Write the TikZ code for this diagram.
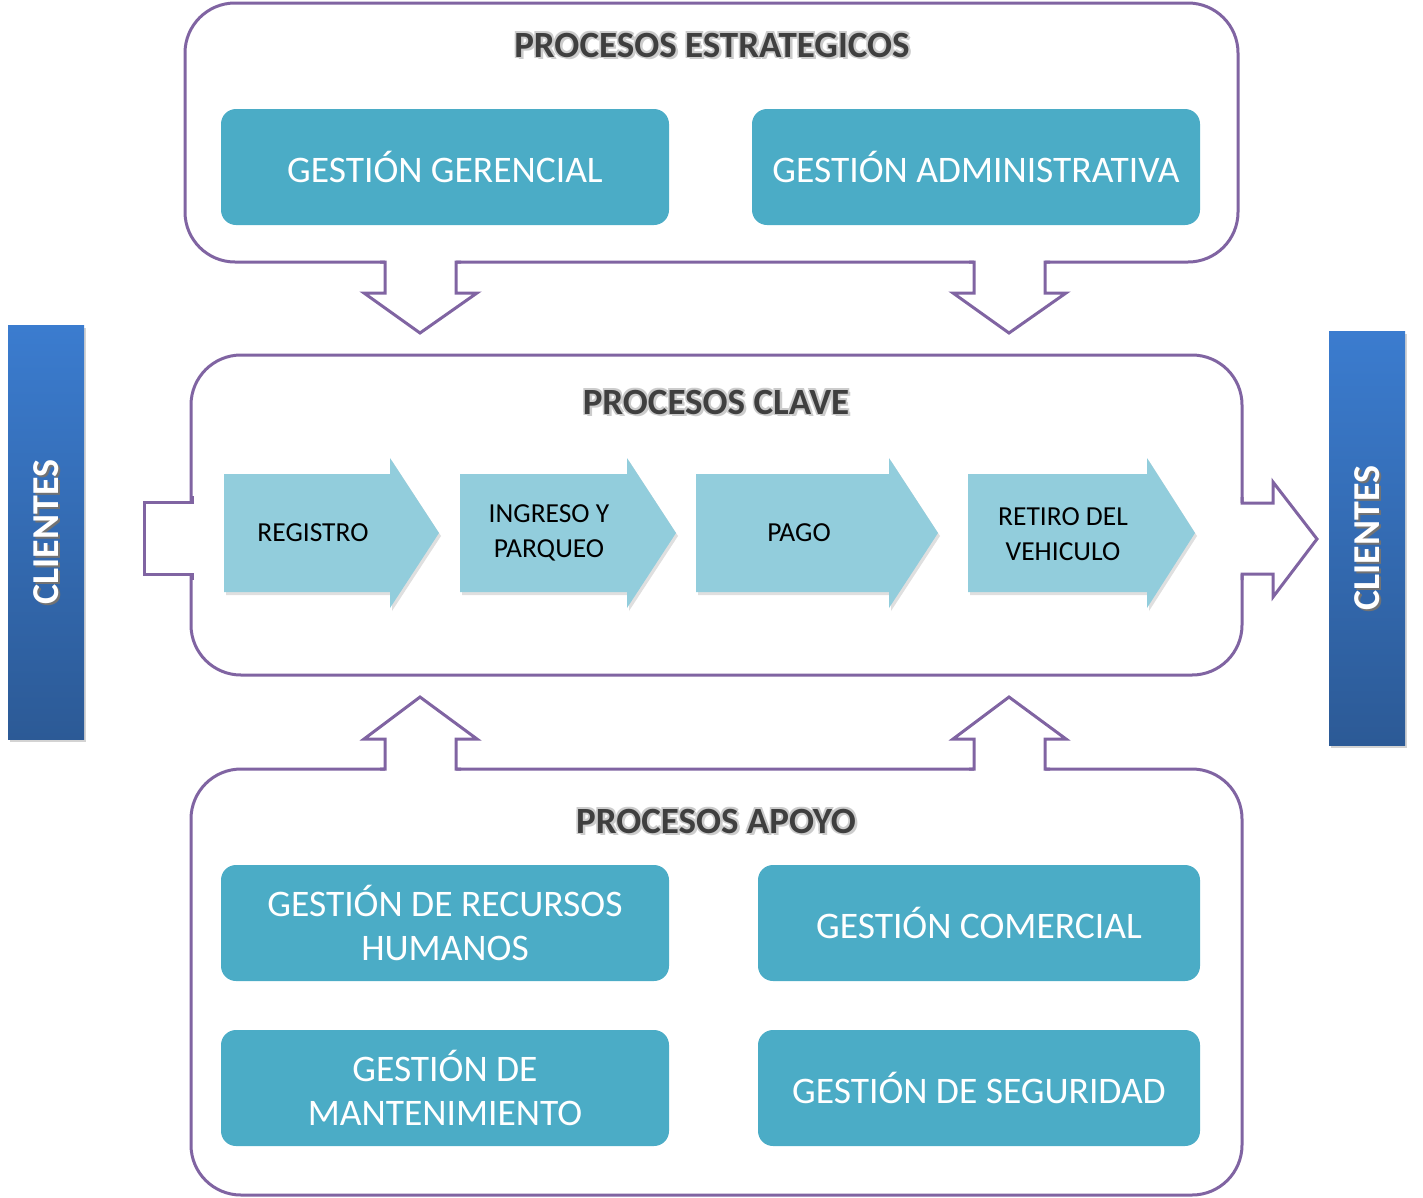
\documentclass[tikz,border=0pt]{standalone}
\usepackage{fontspec}
\setmainfont{Carlito}
\usetikzlibrary{shadows}
\definecolor{procpurple}{HTML}{8064A2}
\definecolor{gbblue}{HTML}{4BACC6}
\definecolor{chevblue}{HTML}{92CDDC}
\definecolor{ttlgray}{HTML}{3F3F3F}
\definecolor{cliTop}{HTML}{3B7CCF}
\definecolor{cliBot}{HTML}{2C5A96}
\begin{document}
\begin{tikzpicture}[x=1pt,y=-1pt,
  frame/.style={draw=procpurple, line width=3pt, line join=miter},
  cont/.style={frame, rounded corners=50pt, inner sep=0pt},
  cover/.style={fill=white, draw=none},
  gbox/.style={fill=gbblue, rounded corners=15pt, minimum width=448pt, minimum height=116pt, text=white, font=\fontsize{37.5}{44}\selectfont, align=center, inner sep=0pt},
  chev/.style={fill=chevblue, drop shadow={opacity=0.25, shadow xshift=2pt, shadow yshift=-3pt}},
  chevtxt/.style={font=\fontsize{27.5}{35}\selectfont, align=center, text=black},
  ttl/.style={font=\bfseries\fontsize{37}{40}\selectfont, text=ttlgray},
  ttlsh/.style={font=\bfseries\fontsize{37}{40}\selectfont, text=black!20},
  cli/.style={top color=cliTop, bottom color=cliBot, draw=none, minimum width=76pt, minimum height=414pt, inner sep=0pt, drop shadow={opacity=0.35, shadow xshift=2pt, shadow yshift=-3pt}},
  clitxt/.style={font=\bfseries\fontsize{38}{40}\selectfont, text=white, rotate=90},
  clish/.style={font=\bfseries\fontsize{38}{40}\selectfont, text=black!55, rotate=90}
]
\useasboundingbox (0,0) rectangle (1423,1197);

% containers
\node[cont, minimum width=1053pt, minimum height=259pt] (strat) at (711.5,132.5) {};
\node[cont, minimum width=1051pt, minimum height=320pt] (clave) at (716.5,515) {};
\node[cont, minimum width=1051pt, minimum height=426pt] (apoyo) at (716.5,982) {};

% down arrows from strategic
\foreach \c in {420,1009}{
  \fill[cover] (\c-35,259) -- (\c-35,293) -- (\c-55,293) -- (\c,333) -- (\c+56,293) -- (\c+36,293) -- (\c+36,259) -- cycle;
  \draw[frame] (\c-40,262) -- (\c-35,262) -- (\c-35,293) -- (\c-56,293) -- (\c,333) -- (\c+57,293) -- (\c+36,293) -- (\c+36,262) -- (\c+41,262);
}
% up arrows from support
\foreach \c in {420,1009}{
  \fill[cover] (\c-35,772) -- (\c-35,739) -- (\c-55,739) -- (\c,697) -- (\c+56,739) -- (\c+36,739) -- (\c+36,772) -- cycle;
  \draw[frame] (\c-40,769) -- (\c-35,769) -- (\c-35,739) -- (\c-56,739) -- (\c,697) -- (\c+57,739) -- (\c+36,739) -- (\c+36,769) -- (\c+41,769);
}
% left entry notch
\fill[cover] (144,502) rectangle (196,574);
\draw[frame] (192,496) -- (192,502) -- (144,502) -- (144,574) -- (192,574) -- (192,580);
% right exit arrow
\fill[cover] (1237,503) -- (1273,503) -- (1273,482) -- (1317,539) -- (1273,597) -- (1273,574) -- (1237,574) -- cycle;
\draw[frame] (1242,497) -- (1242,503) -- (1273,503) -- (1273,482) -- (1317,539) -- (1273,597) -- (1273,574) -- (1242,574) -- (1242,580);

% titles (with soft outline)
\foreach \dx/\dy in {-1.5/-1.5,1.5/-1.5,-1.5/1.5,1.5/1.5,2.5/2.5}{
  \node[ttlsh] at (712+\dx,45+\dy) {PROCESOS ESTRATEGICOS};
  \node[ttlsh] at (716+\dx,402+\dy) {PROCESOS CLAVE};
  \node[ttlsh] at (716+\dx,821+\dy) {PROCESOS APOYO};
}
\node[ttl] (tstrat) at (712,45) {PROCESOS ESTRATEGICOS};
\node[ttl] (tclave) at (716,402) {PROCESOS CLAVE};
\node[ttl] (tapoyo) at (716,821) {PROCESOS APOYO};

% strategic boxes
\node[gbox] (gger) at (445,167) {GESTIÓN GERENCIAL};
\node[gbox] (gadm) at (976,167) {GESTIÓN ADMINISTRATIVA};

% support boxes
\node[gbox] (grh) at (445,923) {GESTIÓN DE RECURSOS\\HUMANOS};
\node[gbox, minimum width=442pt] (gcom) at (979,923) {GESTIÓN COMERCIAL};
\node[gbox] (gman) at (445,1088) {GESTIÓN DE\\MANTENIMIENTO};
\node[gbox, minimum width=442pt] (gseg) at (979,1088) {GESTIÓN DE SEGURIDAD};

% key process chevrons
\fill[chev] (224,474) -- (390,474) -- (390,458) -- (439,533) -- (390,608) -- (390,592) -- (224,592) -- cycle;
\fill[chev] (460,474) -- (627,474) -- (627,458) -- (676,533) -- (627,608) -- (627,592) -- (460,592) -- cycle;
\fill[chev] (696,474) -- (889,474) -- (889,458) -- (938,533) -- (889,608) -- (889,592) -- (696,592) -- cycle;
\fill[chev] (968,474) -- (1147,474) -- (1147,458) -- (1195,533) -- (1147,608) -- (1147,592) -- (968,592) -- cycle;
\node[chevtxt] (reg) at (313,533) {REGISTRO};
\node[chevtxt] (ing) at (549,533) {INGRESO Y\\PARQUEO};
\node[chevtxt] (pago) at (799,533) {PAGO};
\node[chevtxt] (ret) at (1063,534) {RETIRO DEL\\VEHICULO};

% clientes bars
\node[cli] (cliL) at (46,532) {};
\node[clish] at (48,534) {CLIENTES};
\node[clitxt] (cliLt) at (46,532) {CLIENTES};
\node[cli] (cliR) at (1367,538) {};
\node[clish] at (1369,540) {CLIENTES};
\node[clitxt] (cliRt) at (1367,538) {CLIENTES};
\end{tikzpicture}
\end{document}
